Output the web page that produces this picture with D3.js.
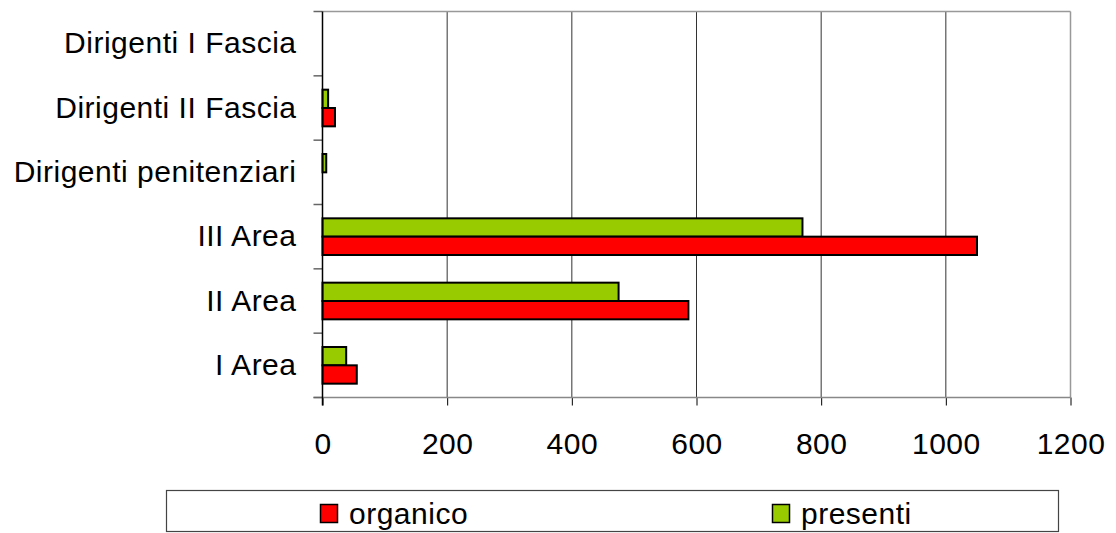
<!DOCTYPE html>
<html><head><meta charset="utf-8">
<script src="https://cdn.jsdelivr.net/npm/d3@7"></script>
<style>body{margin:0;background:#fff;} text{font-family:"Liberation Sans",Arial,sans-serif;letter-spacing:0.5px;}</style>
</head><body>
<svg id="c" width="1116" height="533"></svg>
<script>
const categories = ["Dirigenti I Fascia","Dirigenti II Fascia","Dirigenti penitenziari","III Area","II Area","I Area"];
const organico = [0, 20, 0, 1050, 587, 55];
const presenti = [0, 9, 6, 770, 475, 38];
const xTicks = [0,200,400,600,800,1000,1200];
const seriesNames = ["organico","presenti"];
const colors = {organico:"#FF0000", presenti:"#99CC00"};

const svg = d3.select("#c");
const L = 322.5, R = 1070.5, T = 11.5, B = 397.5;
const FS = 30;
const x = d3.scaleLinear().domain([0,1200]).range([L,R]);
const y = d3.scaleBand().domain(categories).range([T,B]).padding(0);
const bh = y.bandwidth()*0.285;

// gridlines
svg.append("g").selectAll("line").data(xTicks.slice(1,-1)).join("line")
  .attr("x1",d=>x(d)).attr("x2",d=>x(d)).attr("y1",T).attr("y2",B)
  .attr("stroke","#333").attr("stroke-width",1);
// frame top/right
svg.append("line").attr("x1",L).attr("x2",R).attr("y1",T).attr("y2",T).attr("stroke","#999").attr("stroke-width",1.5);
svg.append("line").attr("x1",R).attr("x2",R).attr("y1",T).attr("y2",B).attr("stroke","#999").attr("stroke-width",1.5);

// bars
const rows = categories.map((c,i)=>({c, organico:organico[i], presenti:presenti[i]}));
const g = svg.append("g");
rows.forEach(r=>{
  const top = y(r.c) + (y.bandwidth()-2*bh)/2;
  if (r.presenti>0) g.append("rect").attr("x",x(0)).attr("y",top).attr("width",x(r.presenti)-x(0)).attr("height",bh)
    .attr("fill",colors.presenti).attr("stroke","#000").attr("stroke-width",2);
  if (r.organico>0) g.append("rect").attr("x",x(0)).attr("y",top+bh).attr("width",x(r.organico)-x(0)).attr("height",bh)
    .attr("fill",colors.organico).attr("stroke","#000").attr("stroke-width",2);
});

// x axis
const xa = svg.append("g").attr("transform",`translate(0,${B})`)
  .call(d3.axisBottom(x).tickValues(xTicks).tickSize(8).tickPadding(27).tickFormat(d3.format("d")));
xa.select(".domain").remove();
xa.selectAll(".tick line").attr("stroke","#000");
xa.selectAll("text").attr("font-size",FS).attr("fill","#000");
svg.append("line").attr("x1",L-9).attr("x2",R).attr("y1",B).attr("y2",B).attr("stroke","#888").attr("stroke-width",1.5);

// y axis
const ya = svg.append("g").attr("transform",`translate(${L},0)`)
  .call(d3.axisLeft(y).tickSize(0).tickPadding(26));
ya.select(".domain").remove();
ya.selectAll("text").attr("font-size",FS).attr("fill","#000");
const yt = categories.map(c=>y(c)).concat([B]);
svg.append("g").selectAll("line").data(yt).join("line")
  .attr("x1",L-9).attr("x2",L).attr("y1",d=>d).attr("y2",d=>d).attr("stroke","#666").attr("stroke-width",1.5);
svg.append("line").attr("x1",L).attr("x2",L).attr("y1",T).attr("y2",B+8).attr("stroke","#000").attr("stroke-width",1.5);

// legend
const lg = svg.append("g");
lg.append("rect").attr("x",166.5).attr("y",490.5).attr("width",892).attr("height",41)
  .attr("fill","#fff").attr("stroke","#444").attr("stroke-width",1.2);
const lx = [320, 772];
seriesNames.forEach((s,i)=>{
  lg.append("rect").attr("x",lx[i]+0.5).attr("y",504.5).attr("width",17).attr("height",18)
    .attr("fill",colors[s]).attr("stroke","#000").attr("stroke-width",1.5);
  lg.append("text").attr("x",lx[i]+29).attr("y",524).attr("font-size",FS).attr("fill","#000").text(s);
});
</script>
</body></html>
